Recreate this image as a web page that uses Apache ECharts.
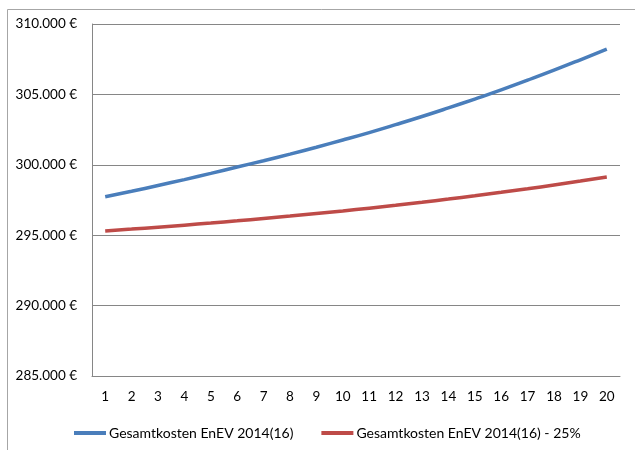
<!DOCTYPE html>
<html>
<head>
<meta charset="utf-8">
<script src="https://cdn.jsdelivr.net/npm/echarts@6/dist/echarts.min.js"></script>
<style>html,body{margin:0;padding:0;background:#fff}#c{width:635px;height:450px}</style>
</head>
<body>
<div id="c"></div>
<script>
const categories = ['1','2','3','4','5','6','7','8','9','10','11','12','13','14','15','16','17','18','19','20'];
const seriesNames = ['Gesamtkosten EnEV 2014(16)', 'Gesamtkosten EnEV 2014(16) - 25%'];
const blueValues = [297730, 298120, 298530, 298950, 299390, 299840, 300290, 300760, 301250, 301760, 302290, 302850, 303430, 304040, 304670, 305320, 306010, 306720, 307460, 308220];
const redValues = [295300, 295432, 295570, 295714, 295865, 296022, 296186, 296358, 296538, 296726, 296922, 297127, 297341, 297565, 297799, 298043, 298298, 298565, 298844, 299135];
const yTicks = [285000, 290000, 295000, 300000, 305000, 310000];

const fmt = v => String(v).replace(/\B(?=(\d{3})+(?!\d))/g, '.') + ' €';
const font = 'Lato, "Open Sans", sans-serif';

const chart = echarts.init(document.getElementById('c'), null, {renderer: 'canvas'});
chart.setOption({
  animation: false,
  backgroundColor: '#fff',
  graphic: [{
    type: 'rect', left: 5, top: 7, shape: {width: 640, height: 460},
    style: {fill: 'none', stroke: '#a6a6a6', lineWidth: 1}, silent: true, z: -1
  }],
  grid: {left: 92, right: 15, top: 24, bottom: 74, containLabel: false},
  legend: {
    top: 421, left: 69,
    itemWidth: 32, itemHeight: 4, itemGap: 28,
    icon: 'rect',
    textStyle: {fontFamily: font, fontSize: 14, color: '#000', padding: [0, 0, 0, -2]},
    data: seriesNames
  },
  xAxis: {
    type: 'category', data: categories, boundaryGap: true,
    axisLine: {lineStyle: {color: '#868686', width: 1}},
    axisTick: {show: false},
    axisLabel: {fontFamily: font, fontSize: 13.5, color: '#000', margin: 14, interval: 0}
  },
  yAxis: {
    type: 'value', min: yTicks[0], max: yTicks[yTicks.length - 1], interval: 5000,
    axisLine: {show: true, lineStyle: {color: '#868686', width: 1}},
    axisTick: {show: false},
    splitLine: {lineStyle: {color: '#868686', width: 1}},
    axisLabel: {fontFamily: font, fontSize: 13.5, color: '#000', margin: 15, formatter: fmt}
  },
  series: [
    {name: seriesNames[0], type: 'line', data: blueValues, smooth: true, showSymbol: false,
     lineStyle: {color: '#4a7ebb', width: 3.5}, itemStyle: {color: '#4a7ebb'}},
    {name: seriesNames[1], type: 'line', data: redValues, smooth: true, showSymbol: false,
     lineStyle: {color: '#be4b48', width: 3.5}, itemStyle: {color: '#be4b48'}}
  ]
});
</script>
</body>
</html>
